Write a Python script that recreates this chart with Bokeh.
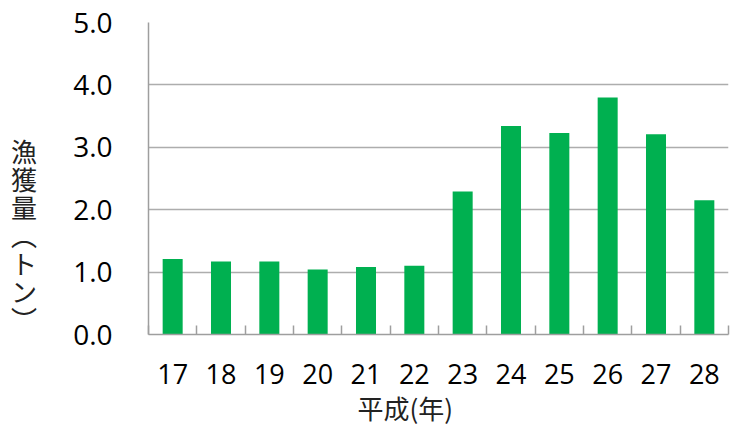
from bokeh.plotting import figure
from bokeh.models import Range1d, FixedTicker, NumeralTickFormatter, Title, ColumnDataSource
from bokeh.embed import file_html
from bokeh.resources import INLINE

# ---- data ----
years = ["17", "18", "19", "20", "21", "22", "23", "24", "25", "26", "27", "28"]
catch = [1.21, 1.17, 1.17, 1.04, 1.08, 1.10, 2.29, 3.34, 3.23, 3.80, 3.21, 2.15]
y_ticks = [0, 1, 2, 3, 4, 5]
y_title = "漁獲量(トン)"
x_title = "平成(年)"

GREEN = "#00B050"
GRID = "#ADADAD"
AXIS = "#9E9E9E"
NUM_FONT = "Open Sans"
CJK_FONT = "Noto Sans CJK JP"

idx = list(range(len(years)))
src = ColumnDataSource(dict(x=idx, top=catch))

p = figure(width=730, height=428, output_backend="svg", toolbar_location=None,
           x_range=Range1d(-0.5, len(years) - 0.5), y_range=Range1d(0, 5),
           min_border_left=148, min_border_right=2, min_border_top=22, min_border_bottom=94)
p.outline_line_color = None
p.background_fill_color = "white"
p.border_fill_color = "white"

p.vbar(x="x", top="top", width=0.414, source=src, fill_color=GREEN, line_color=None)

# x axis
p.xaxis.ticker = FixedTicker(ticks=idx, minor_ticks=[i - 0.5 for i in range(len(years) + 1)])
p.xaxis.major_label_overrides = {i: y for i, y in enumerate(years)}
p.xaxis.major_tick_in = 0
p.xaxis.major_tick_out = 0
p.xaxis.minor_tick_in = 9
p.xaxis.minor_tick_out = 0
p.xaxis.minor_tick_line_color = AXIS
p.xaxis.minor_tick_line_width = 1.5
p.xaxis.axis_line_color = AXIS
p.xaxis.axis_line_width = 1.5
p.xaxis.major_label_text_font = NUM_FONT
p.xaxis.major_label_text_font_size = "27px"
p.xaxis.major_label_text_color = "black"
p.xaxis.major_label_standoff = 29
p.xgrid.grid_line_color = None

# y axis
p.yaxis.ticker = FixedTicker(ticks=y_ticks)
p.yaxis.formatter = NumeralTickFormatter(format="0.0")
p.yaxis.major_tick_in = 0
p.yaxis.major_tick_out = 0
p.yaxis.minor_tick_line_color = None
p.yaxis.axis_line_color = AXIS
p.yaxis.axis_line_width = 1.5
p.yaxis.major_label_text_font = NUM_FONT
p.yaxis.major_label_text_font_size = "28px"
p.yaxis.major_label_text_color = "black"
p.yaxis.major_label_standoff = 36
p.ygrid.grid_line_color = GRID
p.ygrid.grid_line_width = 1.5

# vertical y-axis title: upright stacked characters (leading empty lines shift it down)
vert_map = {"(": "︵", ")": "︶"}
p.yaxis.axis_label = "\n" * 4 + "\n".join(vert_map.get(c, c) for c in y_title)
p.yaxis.axis_label_orientation = "horizontal"
p.yaxis.axis_label_text_font = CJK_FONT
p.yaxis.axis_label_text_font_size = "26px"
p.yaxis.axis_label_text_font_style = "normal"
p.yaxis.axis_label_text_color = "#222222"
p.yaxis.axis_label_text_line_height = 0.755
p.yaxis.axis_label_standoff = 33

# x-axis title
p.add_layout(Title(text=x_title, align="left", offset=209, text_font=CJK_FONT,
                   text_font_size="26px", text_font_style="normal", text_color="#222222",
                   standoff=0), "below")

open("out.html", "w").write(file_html(p, INLINE))
